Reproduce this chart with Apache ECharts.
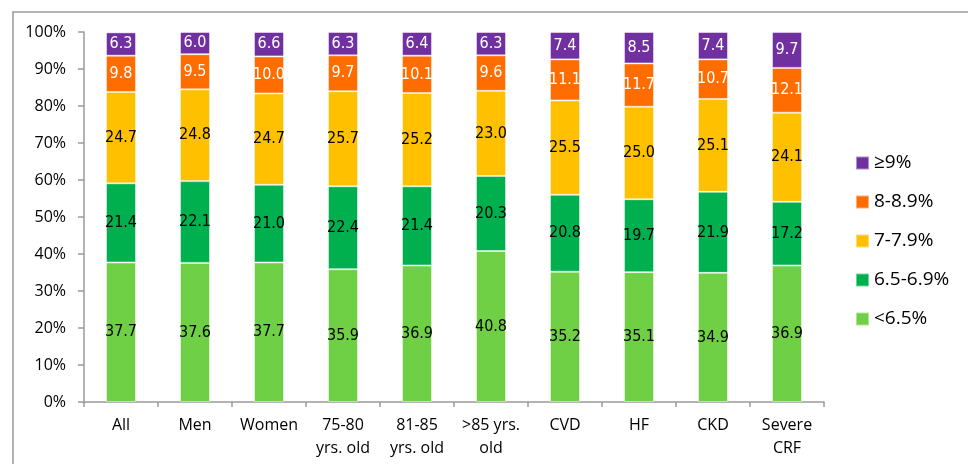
<!DOCTYPE html>
<html>
<head>
<meta charset="utf-8">
<style>
  html, body { margin: 0; padding: 0; background: #fff; }
  #chart { width: 968px; height: 464px; }
</style>
<script src="https://cdn.jsdelivr.net/npm/echarts@6/dist/echarts.min.js"></script>
</head>
<body>
<div id="chart"></div>
<script>
// Share of patients by HbA1c band, per subgroup (%)
const categories = ['All', 'Men', 'Women', '75-80\nyrs. old', '81-85\nyrs. old', '>85 yrs.\nold', 'CVD', 'HF', 'CKD', 'Severe\nCRF'];
const below65   = [37.7, 37.6, 37.7, 35.9, 36.9, 40.8, 35.2, 35.1, 34.9, 36.9];
const from65to69 = [21.4, 22.1, 21.0, 22.4, 21.4, 20.3, 20.8, 19.7, 21.9, 17.2];
const from7to79 = [24.7, 24.8, 24.7, 25.7, 25.2, 23.0, 25.5, 25.0, 25.1, 24.1];
const from8to89 = [9.8, 9.5, 10.0, 9.7, 10.1, 9.6, 11.1, 11.7, 10.7, 12.1];
const atLeast9  = [6.3, 6.0, 6.6, 6.3, 6.4, 6.3, 7.4, 8.5, 7.4, 9.7];
const yTicks = [0, 10, 20, 30, 40, 50, 60, 70, 80, 90, 100];

const bands = [
  { name: '<6.5%',    data: below65,    color: '#6FD046', text: '#000' },
  { name: '6.5-6.9%', data: from65to69, color: '#00B04F', text: '#000' },
  { name: '7-7.9%',   data: from7to79,  color: '#FFC000', text: '#000' },
  { name: '8-8.9%',   data: from8to89,  color: '#FF6D00', text: '#fff' },
  { name: '≥9%',      data: atLeast9,   color: '#7030A0', text: '#fff' }
];

const labelFont = '"DejaVu Sans Condensed", "Liberation Sans Narrow", sans-serif';
const uiFont = '"Open Sans", "Noto Sans", sans-serif';

const chart = echarts.init(document.getElementById('chart'), null, { renderer: 'canvas' });

chart.setOption({
  animation: false,
  graphic: [{
    type: 'rect',
    shape: { x: 13, y: 12, width: 1000, height: 500 },
    style: { fill: 'none', stroke: '#9a9a9a', lineWidth: 1.5 },
    silent: true
  }],
  legend: {
    orient: 'vertical',
    left: 850,
    top: 148,
    itemWidth: 13,
    itemHeight: 13,
    itemGap: 19,
    icon: 'rect',
    data: bands.map(b => b.name).reverse(),
    textStyle: { fontFamily: uiFont, fontSize: 19, lineHeight: 20, color: '#000' }
  },
  grid: { left: 84, right: 144, top: 32, bottom: 62, containLabel: false },
  xAxis: {
    type: 'category',
    data: categories,
    axisLine: { lineStyle: { color: '#9a9a9a', width: 1.5 } },
    axisTick: { show: true, alignWithLabel: false, length: 5, lineStyle: { color: '#9a9a9a', width: 1.5 } },
    axisLabel: {
      interval: 0,
      margin: 12,
      fontFamily: uiFont,
      fontSize: 16,
      color: '#000',
      lineHeight: 23
    }
  },
  yAxis: {
    type: 'value',
    min: yTicks[0],
    max: yTicks[yTicks.length - 1],
    interval: 10,
    splitLine: { show: false },
    axisLine: { show: true, lineStyle: { color: '#9a9a9a', width: 1.5 } },
    axisTick: { show: true, length: 6, lineStyle: { color: '#9a9a9a', width: 1.5 } },
    axisLabel: {
      margin: 18,
      fontFamily: uiFont,
      fontSize: 16,
      color: '#000',
      formatter: v => v + '%'
    }
  },
  series: bands.map(b => ({
    name: b.name,
    type: 'bar',
    stack: 'total',
    barWidth: 30,
    data: b.data,
    itemStyle: { color: b.color, borderColor: 'rgba(255,255,255,0.45)', borderWidth: 1 },
    label: {
      show: true,
      position: 'inside',
      color: b.text,
      fontFamily: labelFont,
      fontSize: 16,
      formatter: p => p.value.toFixed(1)
    }
  }))
});
</script>
</body>
</html>
